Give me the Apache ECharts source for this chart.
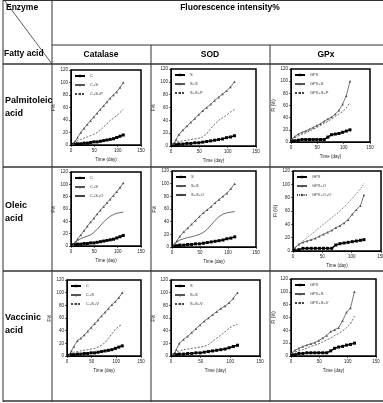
<!DOCTYPE html>
<html><head><meta charset="utf-8">
<script src="https://cdn.jsdelivr.net/npm/echarts@6/dist/echarts.min.js"></script>
<style>html,body{margin:0;padding:0;background:#fff}#c{width:383px;height:403px}</style>
</head><body><div id="c"></div>
<script>
// ---------- data ----------
const rowLabels = ['Palmitoleic\nacid', 'Oleic\nacid', 'Vaccinic\nacid'];
const colLabels = ['Catalase', 'SOD', 'GPx'];
const headerTitle = 'Fluorescence intensity%';
const xTickMax = 150, xTickStep = 50;
const yTickMax = 120, yTickStep = 20;

const days = [5, 9, 14, 21, 28, 35, 42, 49, 56, 63, 70, 77, 84, 91, 98, 105, 112];
const daysGPx = [2, 7, 14, 21, 28, 35, 42, 49, 56, 63, 70, 77, 84, 91, 98, 105, 112];
const daysGPxOleic = [3, 10, 17, 24, 31, 38, 45, 52, 59, 66, 73, 80, 87, 94, 101, 108, 115, 121];

// Palmitoleic acid
const catP_names = ['C', 'C+S', 'C+S+P'];
const catP_E   = [1, 1, 2, 2, 3, 3, 4, 5, 5, 6, 7, 8, 9, 10, 12, 14, 16];
const catP_ES  = [2, 6, 12, 20, 27, 33, 39, 45, 51, 57, 63, 69, 75, 80, 85, 92, 100];
const catP_ESF = [4, 5, 7, 9, 11, 13, 15, 17, 20, 24, 29, 34, 39, 43, 47, 52, 57];
const sodP_names = ['S', 'S+S', 'S+S+P'];
const sodP_E   = [2, 2, 3, 3, 4, 4, 5, 5, 6, 7, 8, 9, 10, 11, 13, 14, 16];
const sodP_ES  = [4, 10, 18, 25, 31, 37, 43, 49, 55, 60, 65, 71, 76, 81, 86, 92, 100];
const sodP_ESF = [5, 6, 7, 8, 9, 10, 11, 12, 14, 19, 27, 34, 40, 44, 48, 53, 57];
const gpxP_names = ['GPX', 'GPX+S', 'GPX+S+P'];
const gpxP_E   = [1, 2, 3, 4, 4, 4, 4, 4, 4, 4, 8, 12, 13, 14, 16, 18, 20];
const gpxP_ES  = [5, 9, 13, 16, 18, 21, 24, 27, 30, 34, 38, 41, 46, 52, 62, 76, 100];
const gpxP_ESF = [3, 7, 10, 13, 15, 18, 21, 24, 27, 31, 34, 38, 42, 46, 50, 56, 65];

// Oleic acid
const catO_names = ['C', 'C+S', 'C+S+O'];
const catO_E   = [2, 2, 3, 3, 4, 4, 5, 5, 6, 7, 8, 9, 10, 11, 13, 15, 17];
const catO_ES  = [2, 6, 11, 18, 25, 32, 39, 45, 52, 58, 64, 70, 76, 82, 88, 95, 102];
const catO_ESF = [3, 6, 9, 12, 14, 16, 18, 22, 27, 33, 39, 44, 48, 51, 53, 54, 55];
const sodO_names = ['S', 'S+S', 'S+S+O'];
const sodO_E   = [2, 2, 3, 3, 4, 4, 5, 5, 6, 7, 8, 9, 10, 11, 13, 14, 16];
const sodO_ES  = [5, 10, 17, 24, 30, 36, 42, 48, 54, 59, 64, 70, 75, 80, 85, 92, 100];
const sodO_ESF = [5, 8, 11, 13, 15, 16, 18, 20, 23, 28, 35, 42, 48, 52, 54, 55, 56];
const gpxO_names = ['GPX', 'GPX+O', 'GPX+O+O'];
const gpxO_E   = [1, 2, 4, 4, 4, 4, 4, 4, 4, 4, 9, 11, 12, 13, 14, 15, 16, 17];
const gpxO_ES  = [5, 10, 13, 15, 17, 19, 22, 25, 28, 31, 35, 38, 42, 47, 55, 62, 68, 84];
const gpxO_ESF = [4, 10, 15, 20, 25, 30, 35, 40, 45, 50, 55, 60, 66, 72, 79, 86, 93, 101];

// Vaccinic acid
const catV_names = ['C', 'C+S', 'C+S+V'];
const catV_E   = [1, 2, 2, 3, 3, 4, 4, 5, 5, 6, 7, 8, 9, 10, 12, 14, 16];
const catV_ES  = [2, 8, 15, 24, 28, 33, 39, 45, 51, 57, 63, 69, 75, 81, 86, 92, 100];
const catV_ESF = [4, 5, 6, 7, 8, 9, 10, 11, 12, 14, 17, 21, 28, 35, 42, 47, 50];
const sodV_names = ['S', 'S+S', 'S+S+V'];
const sodV_E   = [2, 2, 3, 3, 4, 4, 5, 5, 6, 7, 8, 9, 10, 11, 13, 15, 17];
const sodV_ES  = [3, 10, 20, 26, 31, 37, 43, 49, 55, 60, 65, 70, 75, 79, 84, 91, 100];
const sodV_ESF = [5, 6, 8, 10, 11, 12, 13, 14, 15, 18, 23, 28, 33, 38, 44, 48, 50];
const gpxV_names = ['GPX', 'GPX+S', 'GPX+S+V'];
const gpxV_E   = [1, 2, 4, 4, 5, 5, 5, 5, 5, 5, 8, 12, 14, 15, 17, 18, 20];
const gpxV_ES  = [5, 9, 12, 15, 17, 19, 21, 24, 28, 32, 38, 41, 44, 55, 68, 75, 100];
const gpxV_ESF = [3, 6, 8, 10, 12, 15, 17, 19, 22, 25, 28, 32, 35, 39, 44, 50, 62];

// ---------- layout / styling ----------
const charts = [
  {box:{l:71,t:70,w:70,h:75},  x:days, names:catP_names, v:[catP_E,catP_ES,catP_ESF], third:'dashed', yName:'F%', yGap:14},
  {box:{l:171,t:69,w:85,h:77}, x:days, names:sodP_names, v:[sodP_E,sodP_ES,sodP_ESF], third:'dashed', yName:'F%', yGap:13},
  {box:{l:291,t:69,w:79,h:73}, x:daysGPx, names:gpxP_names, v:[gpxP_E,gpxP_ES,gpxP_ESF], third:'dashed', yName:'FI (%)', yGap:11},
  {box:{l:71,t:172,w:70,h:74}, x:days, names:catO_names, v:[catO_E,catO_ES,catO_ESF], third:'solid', yName:'F%', yGap:14},
  {box:{l:172,t:171,w:84,h:76},x:days, names:sodO_names, v:[sodO_E,sodO_ES,sodO_ESF], third:'solid', yName:'F%', yGap:13},
  {box:{l:293,t:171,w:88,h:80},x:daysGPxOleic, names:gpxO_names, v:[gpxO_E,gpxO_ES,gpxO_ESF], third:'dotted', yName:'FI (%)', yGap:11},
  {box:{l:67,t:280,w:74,h:76}, x:days, names:catV_names, v:[catV_E,catV_ES,catV_ESF], third:'dashed', yName:'F%', yGap:13},
  {box:{l:171,t:280,w:89,h:76},x:days, names:sodV_names, v:[sodV_E,sodV_ES,sodV_ESF], third:'dashed', yName:'F%', yGap:13},
  {box:{l:291,t:279,w:85,h:77},x:daysGPx, names:gpxV_names, v:[gpxV_E,gpxV_ES,gpxV_ESF], third:'dashed', yName:'FI (%)', yGap:11}
];

const FONT = 'Liberation Sans, Arial, sans-serif';
const grid = [], xAxis = [], yAxis = [], series = [], legend = [];
charts.forEach((c, i) => {
  grid.push({left:c.box.l, top:c.box.t, width:c.box.w, height:c.box.h, show:true,
    borderColor:'#000', borderWidth:1.5, backgroundColor:'#fff', containLabel:false, outerBoundsMode:'none'});
  const axCommon = {gridIndex:i, type:'value',
    axisLine:{show:true, onZero:false, lineStyle:{color:'#000', width:1}},
    axisTick:{show:true, length:2, lineStyle:{color:'#000', width:0.6}},
    axisLabel:{fontSize:4.5, color:'#222', margin:3, fontFamily:FONT},
    splitLine:{show:false}, nameLocation:'middle',
    nameTextStyle:{fontSize:4.5, color:'#222', fontFamily:FONT}};
  xAxis.push(Object.assign({}, axCommon, {min:0, max:xTickMax, interval:xTickStep, name:'Time (day)', nameGap:12}));
  yAxis.push(Object.assign({}, axCommon, {min:0, max:yTickMax, interval:yTickStep, name:c.yName, nameGap:c.yGap, nameRotate:90}));
  const styles = [
    {symbol:'rect', symbolSize:3, color:'#000', lw:1.4, type:'solid'},
    {symbol:'triangle', symbolSize:2.5, color:'#555', lw:0.8, type:'solid'},
    {symbol:'none', symbolSize:0, color:'#444', lw:0.8, type: c.third === 'dashed' ? [2,1.5] : (c.third === 'dotted' ? [1,1.2] : 'solid')}
  ];
  c.v.forEach((vals, k) => {
    const s = styles[k];
    series.push({type:'line', name:c.names[k], xAxisIndex:i, yAxisIndex:i,
      data: vals.map((y, j) => [c.x[j], y]),
      symbol:s.symbol, symbolSize:s.symbolSize, showSymbol: s.symbol !== 'none',
      lineStyle:{color:s.color, width:s.lw, type:s.type},
      itemStyle:{color:s.color, borderWidth:0},
      animation:false, silent:true, z:3});
  });
  legend.push({orient:'vertical', left:c.box.l + 3, top:c.box.t + 4, data:c.names.slice(),
    itemWidth:10, itemHeight:3, itemGap:5, padding:0,
    textStyle:{fontSize:4, color:'#333', fontFamily:FONT}, selectedMode:false});
});

// ---------- table ----------
const LC = '#333';
function ln(x1, y1, x2, y2, w) { return {type:'line', shape:{x1, y1, x2, y2}, style:{stroke:LC, lineWidth:w || 1}, z:10, silent:true}; }
function tx(text, x, y, size, align, vAlign) {
  return {type:'text', x, y, z:10, silent:true,
    style:{text, font:'bold ' + size + 'px ' + FONT, fill:'#000', align:align || 'left', verticalAlign:vAlign || 'middle', lineHeight: size + 4}};
}
const rowLines = [64, 167, 271, 401];
const graphic = [
  ln(3, 0.5, 383, 0.5), ln(3, 0, 3, 402), ln(52, 0, 52, 402),
  ln(52, 45, 383, 45), ln(151, 45, 151, 402), ln(270, 45, 270, 402),
  ln(5, 1, 52, 64, 0.8),
  tx('Enzyme', 6, 8, 8.5), tx('Fatty acid', 4, 54, 8.5),
  tx(headerTitle, 230, 8, 8.5, 'center'),
  tx(colLabels[0], 101, 55, 8.5, 'center'), tx(colLabels[1], 210, 55, 8.5, 'center'), tx(colLabels[2], 326, 55, 8.5, 'center'),
  tx(rowLabels[0], 5, 107, 9), tx(rowLabels[1], 5, 212, 9), tx(rowLabels[2], 5, 324, 9)
];
rowLines.forEach(y => graphic.push(ln(3, y, 383, y, 1.3)));

const chart = echarts.init(document.getElementById('c'), null, {renderer:'canvas'});
chart.setOption({animation:false, backgroundColor:'#fff', grid, xAxis, yAxis, series, legend, graphic});
</script>
</body></html>
